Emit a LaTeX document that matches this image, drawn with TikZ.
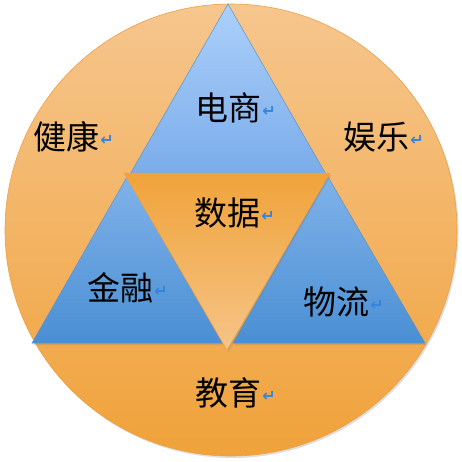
\documentclass[tikz,border=0pt]{standalone}
\usepackage{fontspec}
\newfontfamily\cjk{Noto Sans CJK SC}
\newfontfamily\symb{DejaVu Sans}
\usetikzlibrary{positioning,shadows}
\definecolor{ringtop}{RGB}{246,198,142}
\definecolor{ringbot}{RGB}{240,162,58}
\definecolor{ringline}{RGB}{236,160,70}
\definecolor{skytop}{RGB}{172,208,250}
\definecolor{skybot}{RGB}{122,172,234}
\definecolor{bluetop}{RGB}{128,178,234}
\definecolor{bluebot}{RGB}{74,143,211}
\definecolor{blueline}{RGB}{92,146,210}
\definecolor{coretop}{RGB}{240,163,58}
\definecolor{corebot}{RGB}{246,196,136}
\definecolor{retblue}{RGB}{52,132,222}

\begin{document}
\begin{tikzpicture}[x=1pt,y=-1pt,
  lbl/.style={font=\cjk\fontsize{33}{33}\selectfont, inner sep=0pt},
  retmark/.style={font=\symb\bfseries\fontsize{16}{16}\selectfont, text=retblue, inner sep=0pt},
  tri/.style={draw=blueline, line width=0.5pt, line join=miter},
  shd/.style={drop shadow={opacity=0.25, shadow xshift=1.5pt, shadow yshift=-2pt}}]
\useasboundingbox (0,0) rectangle (462,461);
% ring
\coordinate (o) at (231,230);
\path[shd, top color=ringtop, bottom color=ringbot, draw=ringline, line width=0.6pt]
  (o) circle[radius=226];
% outer triangles
\coordinate (apex) at (228,4);
\coordinate (bl) at (32,343);
\coordinate (br) at (425,343);
\path[tri, top color=skytop, bottom color=skybot]
  (apex) -- (129,176) -- (327,176) -- cycle;
\path[tri, shd, top color=bluetop, bottom color=bluebot]
  (127,177) -- (bl) -- (222,343) -- cycle;
\path[tri, shd, top color=bluetop, bottom color=bluebot]
  (328,177) -- (233,343) -- (br) -- cycle;
% inner triangle
\path[shd, top color=coretop, bottom color=corebot, draw=coretop, line width=0.5pt]
  (124,173) -- (330,173) -- (227,350) -- cycle;
% labels
\foreach \nm/\x/\y/\txt in {ds/228/108/电商, jk/66/137/健康, yl/376/137/娱乐,
    sj/227/213/数据, jr/120/288/金融, wl/336/302/物流, jy/228/393/教育}{
  \node[lbl] (\nm) at (\x,\y) {\txt};
  \node[retmark, right=1pt of \nm, yshift=-3pt] (\nm-r) {↵};
}
\end{tikzpicture}
\end{document}
